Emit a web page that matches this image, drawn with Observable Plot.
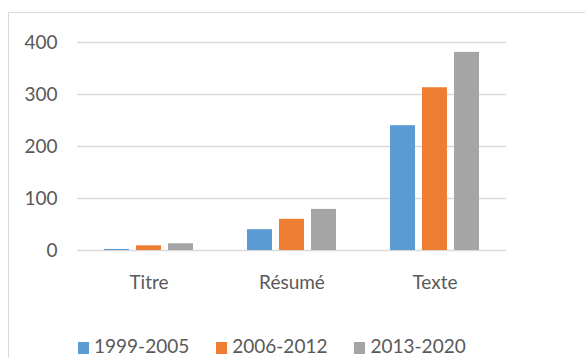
<!DOCTYPE html>
<html>
<head>
<meta charset="utf-8">
<script src="https://cdn.jsdelivr.net/npm/d3@7"></script>
<script src="https://cdn.jsdelivr.net/npm/@observablehq/plot@0.6"></script>
<style>
  body { margin: 0; background: #fff; overflow: hidden; font-family: Lato, sans-serif; }
  #frame { position: absolute; left: 8px; top: 12px; width: 640px; height: 420px; border: 1px solid #d9d9d9; }
  #chart { position: absolute; left: 0; top: 0; }
  #legend { position: absolute; left: 69px; top: 322px; display: flex; align-items: center; font-size: 19px; color: #595959; line-height: 22px; }
  .item { display: flex; align-items: center; margin-right: 27px; }
  .sw { width: 11px; height: 12px; margin-right: 5px; margin-top: 4px; }
</style>
</head>
<body>
<div id="frame">
  <div id="chart"></div>
  <div id="legend"></div>
</div>
<script>
// Sections of the document and the three publication periods
const categories = ["Titre", "Résumé", "Texte"];
const periods = ["1999-2005", "2006-2012", "2013-2020"];
const colors = ["#5b9bd5", "#ed7d31", "#a5a5a5"];
const yTicks = [0, 100, 200, 300, 400];

// Counts per section, one array per period
const values1999 = [2, 40, 240];
const values2006 = [9, 60, 313];
const values2013 = [13, 79, 381];

const series = [values1999, values2006, values2013];
const rows = [];
categories.forEach((c, i) => {
  periods.forEach((p, j) => rows.push({category: c, period: p, value: series[j][i]}));
});

const chart = Plot.plot({
  width: 577,
  height: 310,
  marginLeft: 68,
  marginRight: 80,
  marginTop: 29,
  marginBottom: 73,
  fx: {domain: categories, padding: 0, label: null},
  x: {domain: periods, paddingInner: 0.22, paddingOuter: 0.84, axis: null},
  y: {domain: [0, 400], label: null},
  color: {domain: periods, range: colors},
  style: {fontFamily: "Lato, sans-serif", fontSize: "19px", color: "#595959", background: "transparent"},
  marks: [
    Plot.gridY(yTicks, {stroke: "#d9d9d9", strokeOpacity: 1, strokeWidth: 1.5}),
    Plot.barY(rows, {fx: "category", x: "period", y: "value", fill: "period"}),
    Plot.axisY(yTicks, {tickSize: 0, tickPadding: 20, label: null, fontSize: 19, fill: "#595959"}),
    Plot.axisFx({anchor: "bottom", tickSize: 0, tickPadding: 25, label: null, fontSize: 19, fill: "#595959"})
  ]
});
document.getElementById("chart").appendChild(chart);

// Legend below the plot
const legend = document.getElementById("legend");
periods.forEach((p, i) => {
  const item = document.createElement("div");
  item.className = "item";
  const sw = document.createElement("span");
  sw.className = "sw";
  sw.style.background = colors[i];
  const label = document.createElement("span");
  label.textContent = p;
  item.appendChild(sw);
  item.appendChild(label);
  legend.appendChild(item);
});
</script>
</body>
</html>
